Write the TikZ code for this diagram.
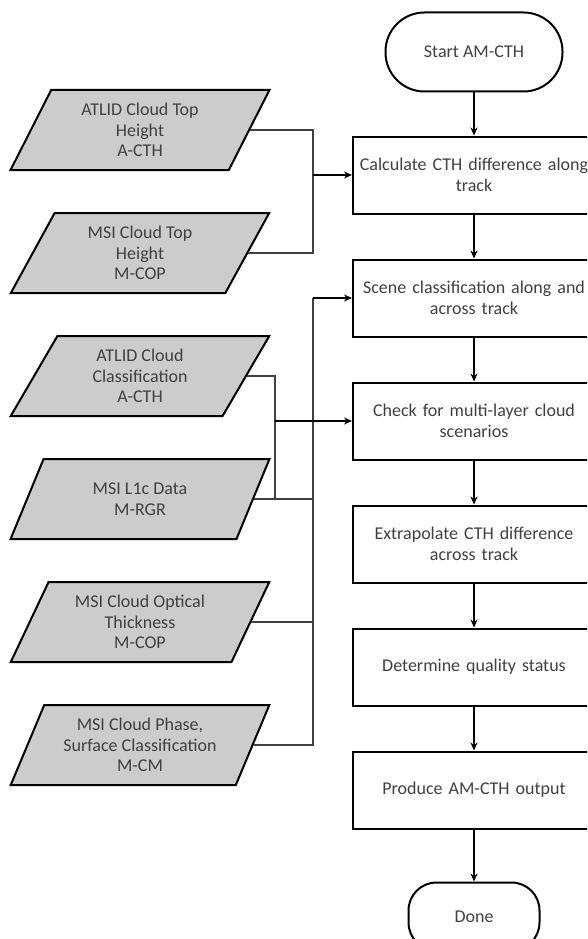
\documentclass[tikz,border=0pt]{standalone}
\usepackage{fontspec}
\setmainfont{Carlito}
\usetikzlibrary{arrows.meta,positioning,shapes.geometric}
\definecolor{ink}{RGB}{64,64,64}
\definecolor{datagray}{RGB}{204,204,204}

\begin{document}
\begin{tikzpicture}[
  x=1pt, y=-1pt,
  every node/.style={font=\fontsize{18}{20.5}\selectfont, text=ink},
  proc/.style={draw, line width=2pt, minimum width=242pt, minimum height=77pt, text width=230pt, align=center, inner sep=6pt},
  term/.style={draw, line width=2pt, rounded corners=39pt, minimum width=177pt, minimum height=79pt},
  data/.style={draw, line width=2pt, fill=datagray, trapezium, trapezium left angle=63.4, trapezium right angle=116.6,
    trapezium stretches=true, minimum width=259pt, minimum height=80pt, align=center, inner sep=0pt},
  wire/.style={ink, line width=1.2pt},
  arr/.style={-{Stealth[length=8pt,width=7pt]}, line width=1.3pt}]
\useasboundingbox (0,0) rectangle (587,939);
\clip (0,0) rectangle (587,939);

% processing chain
\node[term] (start) at (474,52) {Start AM-CTH};
\node[proc, below=43pt of start] (calc) {Calculate CTH difference along\\track};
\node[proc, below=44pt of calc] (scene) {Scene classification along and\\across track};
\node[proc, below=44pt of scene] (check) {Check for multi-layer cloud\\scenarios};
\node[proc, below=44pt of check] (extrap) {Extrapolate CTH difference\\across track};
\node[proc, below=44pt of extrap] (quality) {Determine quality status};
\node[proc, below=44pt of quality] (output) {Produce AM-CTH output};
\node[term, rounded corners=28pt, minimum width=131pt, minimum height=68pt, below=52pt of output] (done) {Done};

% input products
\node[data] (acth) at (140,130) {ATLID Cloud Top\\Height\\A-CTH};
\node[data, below=41pt of acth] (mcth) {MSI Cloud Top\\Height\\M-COP};
\node[data, below=41pt of mcth] (aclass) {ATLID Cloud\\Classification\\A-CTH};
\node[data, below=41pt of aclass] (ml1c) {MSI L1c Data\\M-RGR};
\node[data, below=41pt of ml1c] (mcot) {MSI Cloud Optical\\Thickness\\M-COP};
\node[data, below=41pt of mcot] (mphase) {MSI Cloud Phase,\\Surface Classification\\M-CM};

\coordinate (j1) at ([xshift=-39pt]calc.west);
\coordinate (j2) at ([xshift=-39pt]scene.west);
\coordinate (j3) at ([xshift=-77pt]check.west);

% inputs into the chain
\draw[wire] (acth.east) -| (j1) |- (mcth.east);
\draw[arr] (j1) -- (calc.west);
\draw[wire] (j2) |- (mphase.east);
\draw[wire] (mcot.east) -- (mcot.east -| j2);
\draw[wire] (ml1c.east) -- (ml1c.east -| j2);
\draw[arr] (j2) -- (scene.west);
\draw[wire] (aclass.east) -| (j3) |- (ml1c.east);
\draw[arr] (j3) -- (check.west);

% main flow
\draw[arr] (start) -- (calc);
\draw[arr] (calc) -- (scene);
\draw[arr] (scene) -- (check);
\draw[arr] (check) -- (extrap);
\draw[arr] (extrap) -- (quality);
\draw[arr] (quality) -- (output);
\draw[arr] (output) -- (done);
\end{tikzpicture}
\end{document}
